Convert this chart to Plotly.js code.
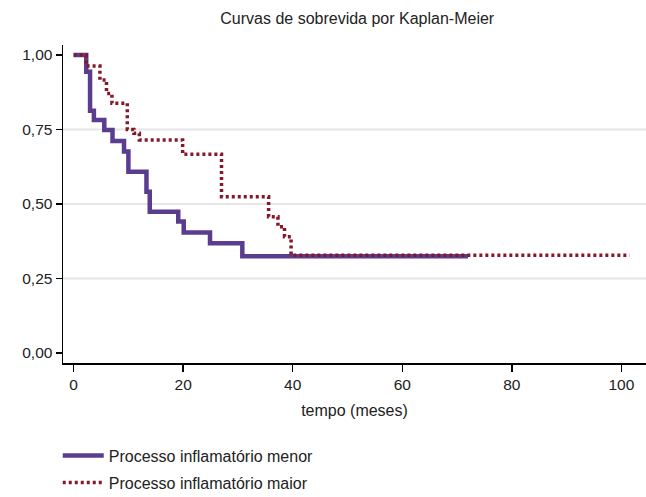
<!DOCTYPE html>
<html>
<head>
<meta charset="utf-8">
<script src="https://cdn.plot.ly/plotly-3.0.1.min.js"></script>
<style>html,body{margin:0;padding:0;background:#fff;}#chart{width:646px;height:497px;}</style>
</head>
<body>
<div id="chart"></div>
<script>
// Grupo: Processo inflamatório menor
var tempoMenor = [0, 2.3, 3.0, 3.7, 5.6, 7.1, 9.2, 10.0, 13.3, 13.9, 19.1, 20.1, 24.9, 30.8, 72];
var sobrevidaMenor = [1, 0.944, 0.813, 0.782, 0.748, 0.711, 0.676, 0.608, 0.541, 0.474, 0.441, 0.404, 0.368, 0.325, 0.325];
// Grupo: Processo inflamatório maior
var tempoMaior = [0, 2.3, 4.8, 6.0, 7.0, 9.8, 11.0, 12.0, 19.9, 27.0, 35.6, 37.3, 38.5, 39.7, 101.5];
var sobrevidaMaior = [1, 0.963, 0.916, 0.871, 0.838, 0.75, 0.737, 0.715, 0.667, 0.524, 0.457, 0.424, 0.39, 0.328, 0.328];
var nomes = ['Processo inflamatório menor', 'Processo inflamatório maior'];
var xTicks = [0, 20, 40, 60, 80, 100];
var yTicks = [0, 0.25, 0.5, 0.75, 1];
var gridVals = [0.25, 0.5, 0.75];

var font = 'Liberation Sans, Arial, Helvetica, sans-serif';
var traces = [
  {x: tempoMenor, y: sobrevidaMenor, name: nomes[0], mode: 'lines', line: {shape: 'hv', color: '#5a3d8f', width: 4.5}, legendgroup: 'a'},
  {x: tempoMaior, y: sobrevidaMaior, name: nomes[1], mode: 'lines', line: {shape: 'hv', color: '#84182a', width: 3.5, dash: '3px,3px'}, legendgroup: 'b'}
];
var shapes = gridVals.map(function(v){
  return {type: 'line', xref: 'paper', yref: 'y', x0: 0, x1: 1, y0: v, y1: v, line: {color: '#e6e6e6', width: 2}, layer: 'below'};
});
var layout = {
  width: 646, height: 497,
  margin: {l: 63, r: 0, t: 45, b: 134, autoexpand: false},
  paper_bgcolor: '#fff', plot_bgcolor: '#fff',
  separators: ',.',
  font: {family: font, size: 15.5, color: '#222'},
  title: {text: 'Curvas de sobrevida por Kaplan-Meier', font: {family: font, size: 16, color: '#222'}, x: 0.553, xanchor: 'center', y: 0.962, yanchor: 'middle'},
  xaxis: {range: [-1.94, 104.5], tickvals: xTicks, ticks: 'outside', ticklen: 7, tickwidth: 1.5, tickcolor: '#000', showline: true, linecolor: '#000', linewidth: 1.5, showgrid: false, zeroline: false,
    title: {text: 'tempo (meses)', font: {family: font, size: 16, color: '#222'}, standoff: 12}, tickfont: {size: 15.5}},
  yaxis: {range: [-0.0335, 1.0335], tickvals: yTicks, tickformat: '.2f', ticks: 'outside', ticklen: 6, tickwidth: 1.5, tickcolor: '#000', showline: true, linecolor: '#000', linewidth: 1.5, showgrid: false, zeroline: false, tickfont: {size: 15.5}},
  shapes: shapes,
  showlegend: true,
  legend: {x: -0.009, xanchor: 'left', y: -0.238, yanchor: 'top', orientation: 'v', traceorder: 'grouped', tracegroupgap: 3, itemwidth: 41, font: {family: font, size: 16, color: '#222'}, bgcolor: 'rgba(0,0,0,0)'}
};
Plotly.newPlot('chart', traces, layout, {displayModeBar: false, staticPlot: true});
</script>
</body>
</html>
